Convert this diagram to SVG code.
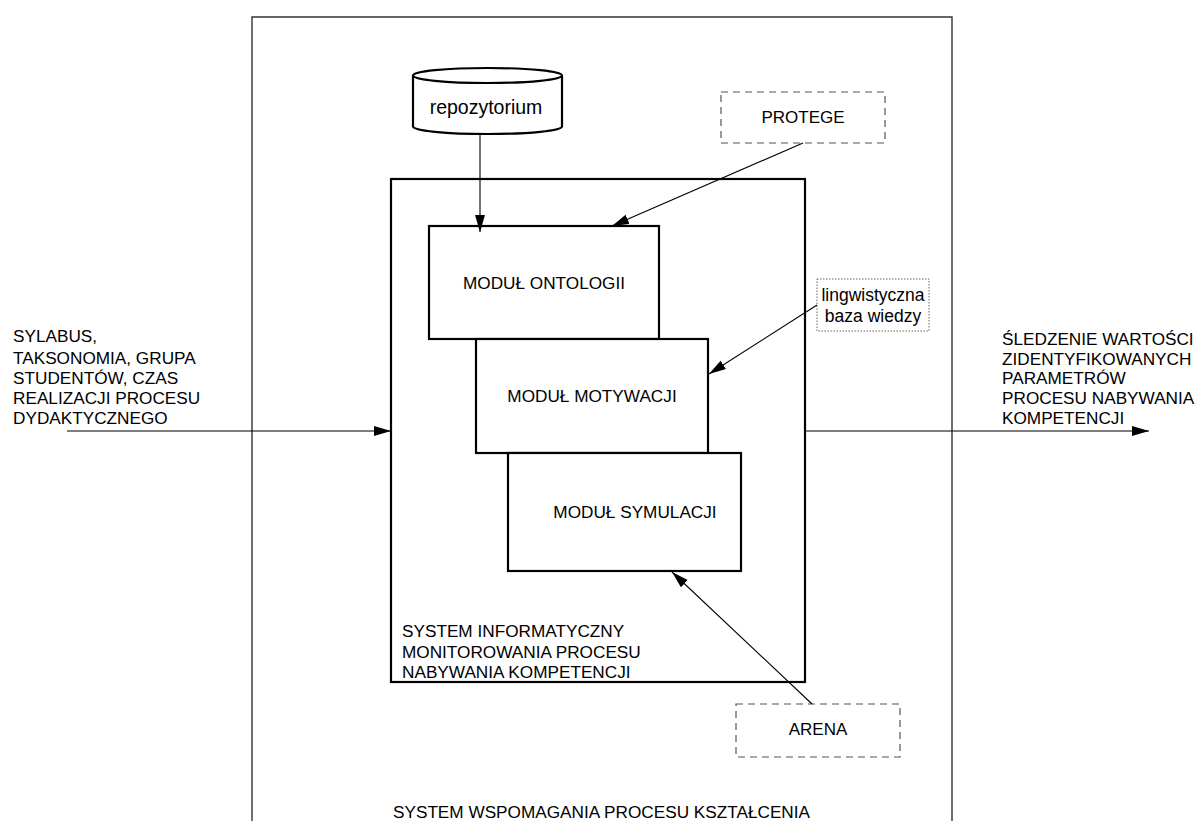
<svg xmlns="http://www.w3.org/2000/svg" width="1197" height="821" viewBox="0 0 1197 821">
  <style>
    text { font-family: "Liberation Sans", Arial, sans-serif; fill: #000; }
    .t16 { font-size: 17.2px; }
    .mid { text-anchor: middle; }
    .frame { fill: none; stroke: #333; stroke-width: 1.4; }
    .box { fill: #fff; stroke: #000; stroke-width: 2.2; }
    .ext { fill: #fff; stroke: #555; stroke-width: 1.2; stroke-dasharray: 7 5; }
    .kb { fill: #fff; stroke: #666; stroke-width: 1; stroke-dasharray: 1.5 1.5; }
    .conn { fill: none; stroke: #000; stroke-width: 1.1; marker-end: url(#arrow); }
  </style>
  <defs>
    <marker id="arrow" markerUnits="userSpaceOnUse" markerWidth="18" markerHeight="11" refX="17" refY="5" orient="auto">
      <path d="M0,0 L17,5 L0,10 z" fill="#000"/>
    </marker>
  </defs>

  <rect width="1197" height="821" fill="#fff"/>

  <!-- outer system frame, open at the bottom -->
  <g id="system-wspomagania">
    <path class="frame" d="M252,830 L252,17 L952,17 L952,830"/>
    <text x="601.5" y="818" class="t16 mid">SYSTEM WSPOMAGANIA PROCESU KSZTAŁCENIA</text>
  </g>

  <!-- information system container -->
  <g id="system-informatyczny">
    <rect class="box" x="391" y="179" width="414" height="503"/>
    <text class="t16" x="402" y="637">SYSTEM INFORMATYCZNY</text>
    <text class="t16" x="402" y="658">MONITOROWANIA PROCESU</text>
    <text class="t16" x="402" y="678">NABYWANIA KOMPETENCJI</text>
  </g>

  <!-- repository cylinder -->
  <g id="repozytorium">
    <path d="M413,75.5 L413,126.5 A74.5,7.5 0 0 0 562,126.5 L562,75.5" fill="#fff" stroke="#000" stroke-width="2.2"/>
    <ellipse cx="487.5" cy="75.5" rx="74.5" ry="7.5" fill="#fff" stroke="#000" stroke-width="2.2"/>
    <text x="486" y="114" class="mid" font-size="19.5">repozytorium</text>
  </g>

  <g id="protege">
    <rect class="ext" x="721" y="92" width="164" height="51"/>
    <text x="803" y="123" class="mid" font-size="17">PROTEGE</text>
  </g>

  <g id="lingwistyczna-baza">
    <rect class="kb" x="817" y="279" width="112" height="52"/>
    <text x="873" y="301" class="mid" font-size="17.5">lingwistyczna</text>
    <text x="873" y="322" class="mid" font-size="17.5">baza wiedzy</text>
  </g>

  <g id="arena">
    <rect class="ext" x="736" y="704" width="164" height="53"/>
    <text x="818" y="735" class="mid" font-size="17">ARENA</text>
  </g>

  <!-- stacked modules -->
  <g id="modul-ontologii">
    <rect class="box" x="429" y="226" width="230" height="113"/>
    <text class="t16 mid" x="544" y="289">MODUŁ ONTOLOGII</text>
  </g>
  <g id="modul-motywacji">
    <rect class="box" x="476" y="339" width="232" height="114"/>
    <text class="t16 mid" x="592" y="402">MODUŁ MOTYWACJI</text>
  </g>
  <g id="modul-symulacji">
    <rect class="box" x="508" y="453" width="233" height="118"/>
    <text class="t16 mid" x="635" y="518">MODUŁ SYMULACJI</text>
  </g>

  <!-- input / output labels -->
  <g id="wejscie">
    <text class="t16" x="13" y="342">SYLABUS,</text>
    <text class="t16" x="13" y="364">TAKSONOMIA, GRUPA</text>
    <text class="t16" x="13" y="384">STUDENTÓW, CZAS</text>
    <text class="t16" x="13" y="404">REALIZACJI PROCESU</text>
    <text class="t16" x="13" y="424">DYDAKTYCZNEGO</text>
  </g>
  <g id="wyjscie">
    <text class="t16" x="1002" y="345">ŚLEDZENIE WARTOŚCI</text>
    <text class="t16" x="1002" y="365">ZIDENTYFIKOWANYCH</text>
    <text class="t16" x="1002" y="384">PARAMETRÓW</text>
    <text class="t16" x="1002" y="404">PROCESU NABYWANIA</text>
    <text class="t16" x="1002" y="424">KOMPETENCJI</text>
  </g>

  <!-- connectors -->
  <g id="connectors">
    <line class="conn" x1="480" y1="135" x2="480" y2="232"/>
    <line class="conn" x1="803" y1="143" x2="612" y2="226"/>
    <line class="conn" x1="817" y1="305" x2="709" y2="374"/>
    <line class="conn" x1="812" y1="704" x2="672" y2="572"/>
    <line class="conn" x1="67" y1="431" x2="391" y2="431"/>
    <line class="conn" x1="805" y1="431" x2="1149" y2="431"/>
  </g>
</svg>
